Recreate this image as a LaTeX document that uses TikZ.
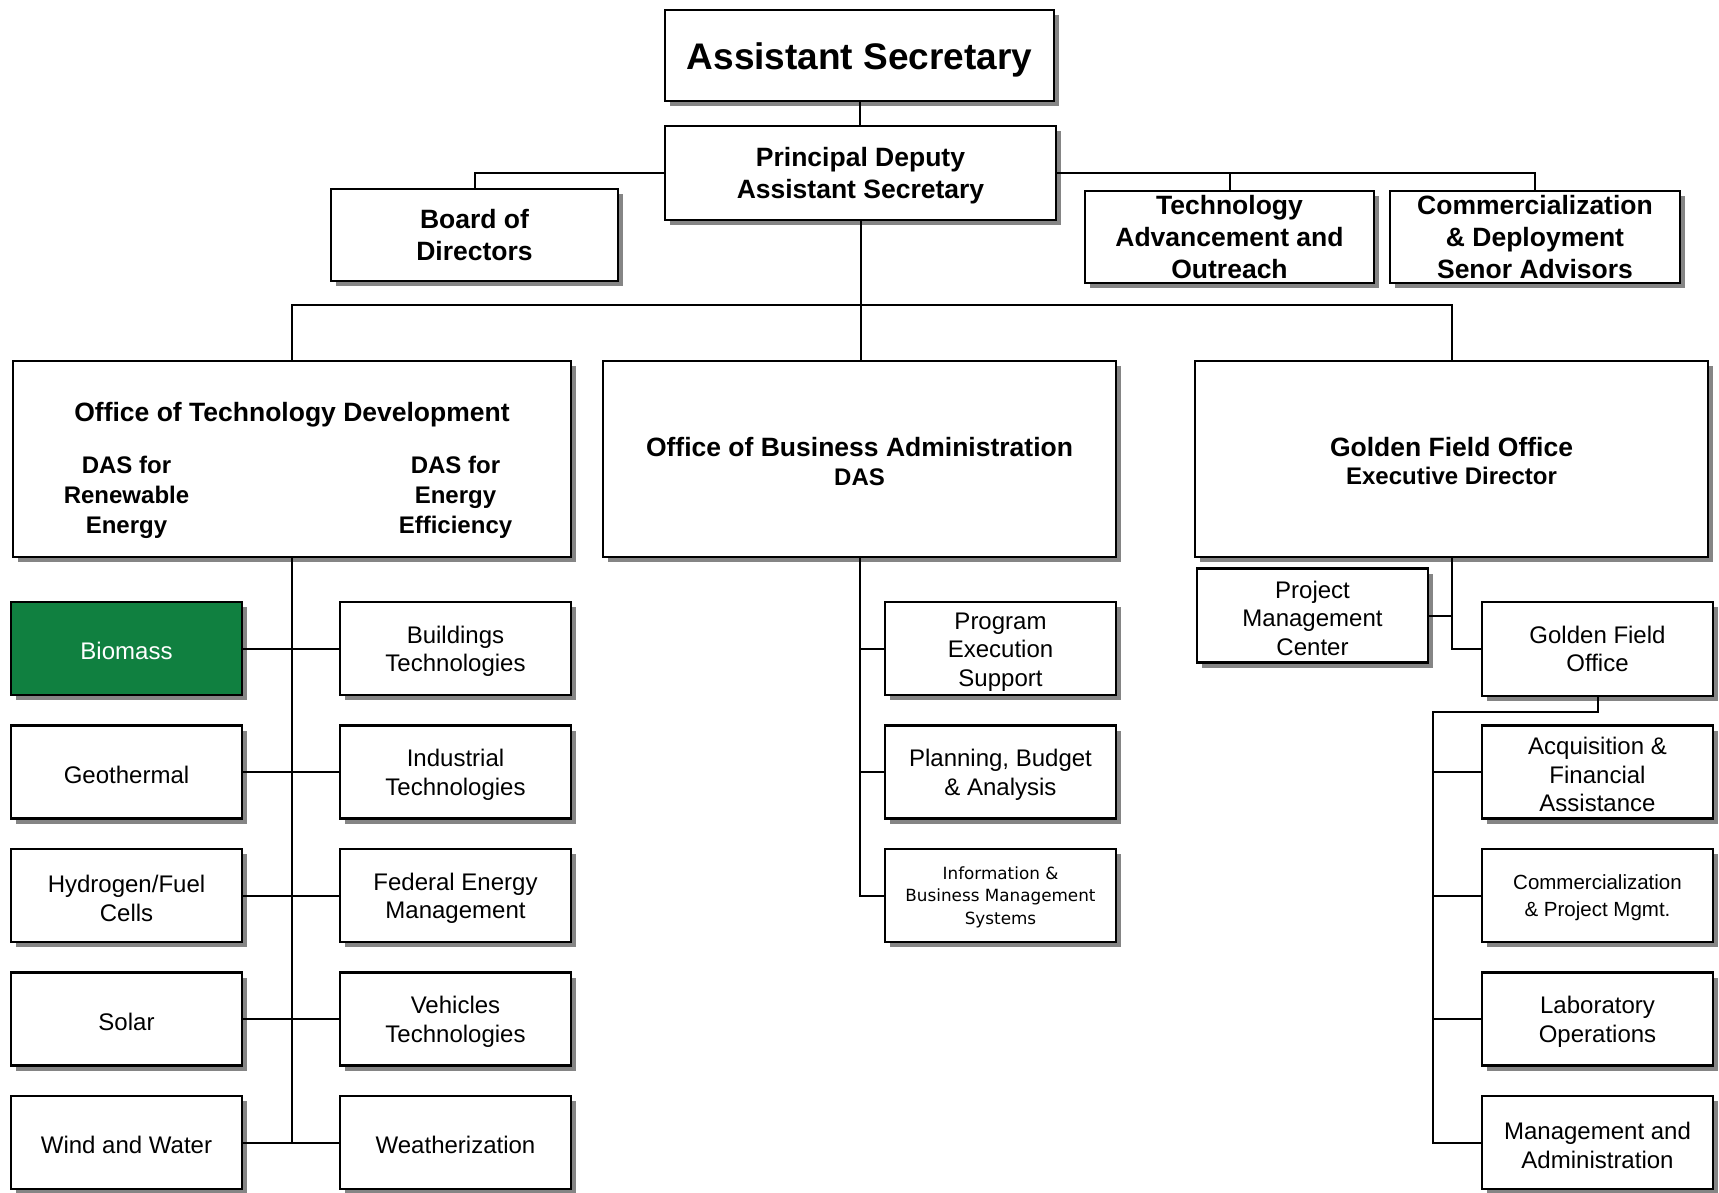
\documentclass[tikz,border=0pt]{standalone}
\usepackage{fontspec}
\setmainfont{Liberation Sans}
\newfontfamily\smallsysfont{DejaVu Sans}
\usetikzlibrary{shadows}

\definecolor{biogreen}{RGB}{16,128,64}

% font sizes (1 unit = 1pt)
\newcommand\ftop{\fontsize{37}{42}\selectfont\bfseries}
\newcommand\fhead{\fontsize{26.5}{32}\selectfont\bfseries}
\newcommand\fsubhead{\fontsize{24}{29.6}\selectfont\bfseries}
\newcommand\freg{\fontsize{24}{28.5}\selectfont}
\newcommand\fsmallreg{\fontsize{20.5}{27.4}\selectfont}
\newcommand\ftinyreg{\smallsysfont\fontsize{16.8}{22.5}\selectfont}
% taller first line, so the text block sits a little lower in its box
\newcommand\fs{\rule{0pt}{0.96em}}

\tikzset{
  box/.style={draw=black, line width=2.4pt, fill=white, align=center, inner sep=0pt,
    execute at begin node=\fs,
    general shadow={fill=black!48, shadow xshift=5pt, shadow yshift=-5pt}},
  wide/.style={box, minimum width=231pt, minimum height=93pt, font=\freg},
  conn/.style={line width=2pt, draw=black},
  label/.style={align=center, inner sep=0pt, execute at begin node=\fs},
}

\begin{document}
\begin{tikzpicture}[x=1pt, y=-1pt]
\useasboundingbox (0,0) rectangle (1719,1192);
\fill[white] (0,0) rectangle (1719,1192);

% top tier
\node[box, minimum width=389pt, minimum height=91pt, font=\ftop, execute at begin node=\rule{0pt}{0.8em}] (as) at (859.5,55.5) {Assistant Secretary};
\node[box, minimum width=391pt, minimum height=94pt, font=\fhead] (pdas) at (860.5,173) {\fs Principal Deputy\\Assistant Secretary};
\node[box, minimum width=287pt, minimum height=92pt, font=\fhead] (bod) at (474.5,235) {Board of\\Directors};
\node[box, minimum width=289pt, minimum height=92pt, font=\fhead] (tao) at (1229.5,237) {Technology\\Advancement and\\Outreach};
\node[box, minimum width=290pt, minimum height=92pt, font=\fhead] (cdsa) at (1535,237) {Commercialization\\\& Deployment\\Senor Advisors};

% offices
\node[box, minimum width=558pt, minimum height=196pt] (otd) at (292,459) {};
\node[label, font=\fhead] (otdtitle) at (292,412) {Office of Technology Development};
\node[label, font=\fsubhead] (dasre) at (126.5,494.5) {\fs DAS for\\Renewable\\Energy};
\node[label, font=\fsubhead] (dasee) at (455.5,494.5) {\fs DAS for\\Energy\\Efficiency};

\node[box, minimum width=513pt, minimum height=196pt] (oba) at (859.5,459) {};
\node[label, font=\fhead] (obatitle) at (859.5,444) {Office of Business Administration};
\node[label, font=\fsubhead] (obadas) at (859.5,474) {DAS};

\node[box, minimum width=513pt, minimum height=196pt] (gfoe) at (1451.5,459) {};
\node[label, font=\fhead] (gfoetitle) at (1451.5,443.5) {Golden Field Office};
\node[label, font=\fsubhead] (gfoedir) at (1451.5,473) {Executive Director};

% renewable energy programs
\node[wide, fill=biogreen, text=white] (biomass) at (126.5,648.5) {Biomass};
\node[wide] (geo) at (126.5,772) {Geothermal};
\node[wide] (hyd) at (126.5,895.5) {\fs Hydrogen/Fuel\\Cells};
\node[wide] (solar) at (126.5,1019) {Solar};
\node[wide] (wind) at (126.5,1142.5) {Wind and Water};

% energy efficiency programs
\node[wide] (bld) at (455.5,648.5) {\fs Buildings\\Technologies};
\node[wide] (ind) at (455.5,772) {\fs Industrial\\Technologies};
\node[wide] (fem) at (455.5,895.5) {\fs Federal Energy\\Management};
\node[wide] (veh) at (455.5,1019) {\fs Vehicles\\Technologies};
\node[wide] (wx) at (455.5,1142.5) {Weatherization};

% business administration units
\node[wide] (pes) at (1000.5,648.5) {\fs Program\\Execution\\Support};
\node[wide] (pba) at (1000.5,772) {\fs Planning, Budget\\\& Analysis};
\node[wide, font=\ftinyreg] (ibms) at (1000.5,895.5) {\fs Information \&\\Business Management\\Systems};

% golden field office units
\node[wide, minimum height=94pt] (pmc) at (1312.5,615.5) {\fs Project\\Management\\Center};
\node[wide, minimum height=94pt] (gfo) at (1597.5,649) {Golden Field\\Office};
\node[wide] (acq) at (1597.5,772) {\fs Acquisition \&\\Financial\\Assistance};
\node[wide, font=\fsmallreg] (cpm) at (1597.5,895.5) {\fs Commercialization\\\& Project Mgmt.};
\node[wide] (lab) at (1597.5,1019) {\fs Laboratory\\Operations};
\node[wide] (mad) at (1597.5,1142.5) {\fs Management and\\Administration};

% connectors between the top tiers
\draw[conn] (as.south) -- (as.south |- pdas.north);
\draw[conn] (pdas.west) -| (bod.north);
\draw[conn] (pdas.east) -| (cdsa.north);
\draw[conn] (tao.north) -- (tao.north |- pdas.east);

\coordinate (bus) at (860,305);
\draw[conn] (otd.north) |- (bus) -| (gfoe.north);
\draw[conn] (pdas.south) -- (pdas.south |- oba.north);

% technology development tree
\draw[conn] (otd.south) -- (otd.south |- wind.east);
\draw[conn] (biomass.east) -- (bld.west);
\draw[conn] (geo.east) -- (ind.west);
\draw[conn] (hyd.east) -- (fem.west);
\draw[conn] (solar.east) -- (veh.west);
\draw[conn] (wind.east) -- (wx.west);

% business administration tree
\draw[conn] (oba.south) |- (ibms.west);
\draw[conn] (oba.south |- pes.west) -- (pes.west);
\draw[conn] (oba.south |- pba.west) -- (pba.west);

% golden field office tree
\draw[conn] (gfoe.south) |- (gfo.west);
\draw[conn] (pmc.east) -- (gfoe.south |- pmc.east);
\coordinate (gbus) at (1433,712);
\draw[conn] (gfo.south) |- (gbus) |- (mad.west);
\draw[conn] (gbus |- acq.west) -- (acq.west);
\draw[conn] (gbus |- cpm.west) -- (cpm.west);
\draw[conn] (gbus |- lab.west) -- (lab.west);
\end{tikzpicture}
\end{document}
